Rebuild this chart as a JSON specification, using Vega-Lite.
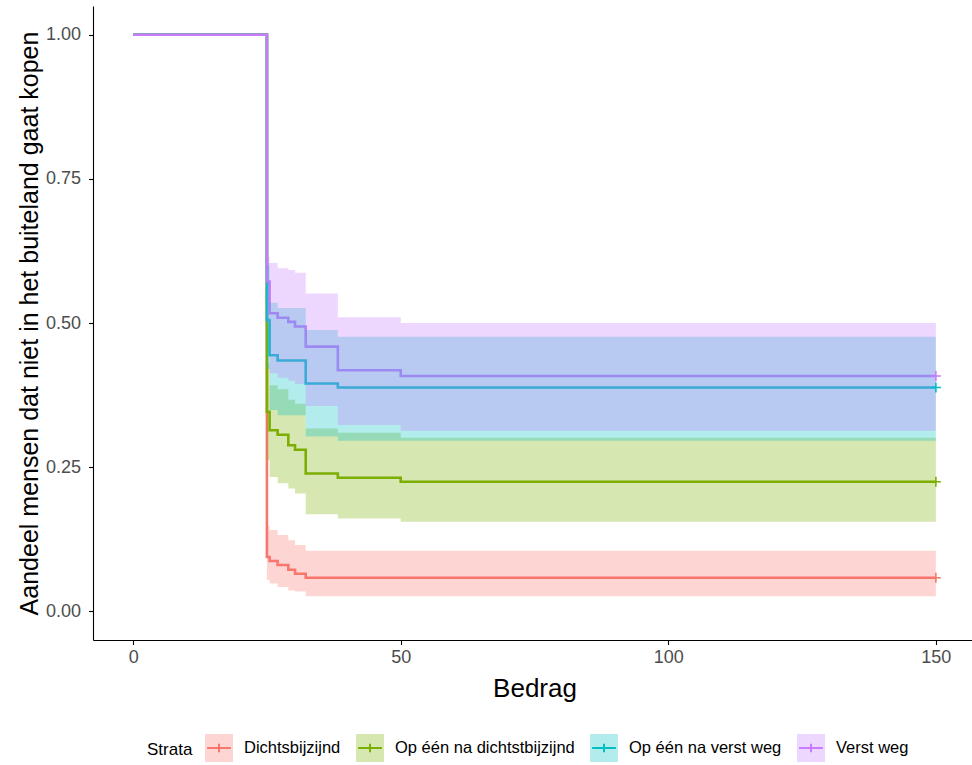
{
  "$schema": "https://vega.github.io/schema/vega-lite/v6.json",
  "width": 883,
  "height": 634,
  "autosize": {"type": "none"},
  "padding": {"left": 93, "top": 6, "right": 0, "bottom": 125},
  "background": "white",
  "datasets": {
    "km": [
      {"s": "Dichtsbijzijnd", "t": 0, "surv": 1, "upper": 1, "lower": 1},
      {"s": "Dichtsbijzijnd", "t": 25, "surv": 0.094, "upper": 0.148, "lower": 0.054},
      {"s": "Dichtsbijzijnd", "t": 25.5, "surv": 0.087, "upper": 0.141, "lower": 0.048},
      {"s": "Dichtsbijzijnd", "t": 27, "surv": 0.08, "upper": 0.132, "lower": 0.042},
      {"s": "Dichtsbijzijnd", "t": 29, "surv": 0.072, "upper": 0.123, "lower": 0.036},
      {"s": "Dichtsbijzijnd", "t": 30.25, "surv": 0.065, "upper": 0.115, "lower": 0.034},
      {"s": "Dichtsbijzijnd", "t": 32.25, "surv": 0.058, "upper": 0.105, "lower": 0.026},
      {"s": "Dichtsbijzijnd", "t": 150, "surv": 0.058, "upper": 0.105, "lower": 0.026},
      {"s": "Op één na dichtstbijzijnd", "t": 0, "surv": 1, "upper": 1, "lower": 1},
      {"s": "Op één na dichtstbijzijnd", "t": 25, "surv": 0.346, "upper": 0.43, "lower": 0.262},
      {"s": "Op één na dichtstbijzijnd", "t": 25.5, "surv": 0.314, "upper": 0.392, "lower": 0.233},
      {"s": "Op één na dichtstbijzijnd", "t": 27, "surv": 0.306, "upper": 0.385, "lower": 0.222},
      {"s": "Op één na dichtstbijzijnd", "t": 29, "surv": 0.288, "upper": 0.367, "lower": 0.213},
      {"s": "Op één na dichtstbijzijnd", "t": 30.25, "surv": 0.28, "upper": 0.36, "lower": 0.204},
      {"s": "Op één na dichtstbijzijnd", "t": 32.25, "surv": 0.239, "upper": 0.317, "lower": 0.168},
      {"s": "Op één na dichtstbijzijnd", "t": 38.25, "surv": 0.2315, "upper": 0.3096, "lower": 0.161},
      {"s": "Op één na dichtstbijzijnd", "t": 50, "surv": 0.2245, "upper": 0.301, "lower": 0.155},
      {"s": "Op één na dichtstbijzijnd", "t": 150, "surv": 0.2245, "upper": 0.301, "lower": 0.155},
      {"s": "Op één na verst weg", "t": 0, "surv": 1, "upper": 1, "lower": 1},
      {"s": "Op één na verst weg", "t": 25, "surv": 0.505, "upper": 0.6, "lower": 0.42},
      {"s": "Op één na verst weg", "t": 25.5, "surv": 0.444, "upper": 0.535, "lower": 0.349},
      {"s": "Op één na verst weg", "t": 27, "surv": 0.435, "upper": 0.526, "lower": 0.34},
      {"s": "Op één na verst weg", "t": 32.25, "surv": 0.395, "upper": 0.488, "lower": 0.303},
      {"s": "Op één na verst weg", "t": 38.25, "surv": 0.388, "upper": 0.476, "lower": 0.2957},
      {"s": "Op één na verst weg", "t": 150, "surv": 0.388, "upper": 0.476, "lower": 0.2957},
      {"s": "Verst weg", "t": 0, "surv": 1, "upper": 1, "lower": 1},
      {"s": "Verst weg", "t": 25, "surv": 0.572, "upper": 0.615, "lower": 0.5},
      {"s": "Verst weg", "t": 25.5, "surv": 0.517, "upper": 0.604, "lower": 0.413},
      {"s": "Verst weg", "t": 27, "surv": 0.509, "upper": 0.595, "lower": 0.405},
      {"s": "Verst weg", "t": 29, "surv": 0.502, "upper": 0.592, "lower": 0.4},
      {"s": "Verst weg", "t": 30.25, "surv": 0.494, "upper": 0.587, "lower": 0.394},
      {"s": "Verst weg", "t": 32.25, "surv": 0.459, "upper": 0.551, "lower": 0.356},
      {"s": "Verst weg", "t": 38.25, "surv": 0.418, "upper": 0.51, "lower": 0.323},
      {"s": "Verst weg", "t": 50, "surv": 0.408, "upper": 0.5, "lower": 0.313},
      {"s": "Verst weg", "t": 150, "surv": 0.408, "upper": 0.5, "lower": 0.313}
    ],
    "censor": [
      {"s": "Dichtsbijzijnd", "t": 150, "surv": 0.058},
      {"s": "Op één na dichtstbijzijnd", "t": 150, "surv": 0.2245},
      {"s": "Op één na verst weg", "t": 150, "surv": 0.388},
      {"s": "Verst weg", "t": 150, "surv": 0.408}
    ]
  },
  "layer": [
    {
      "data": {"name": "km"},
      "mark": {"type": "line", "interpolate": "step-after", "strokeWidth": 2.6},
      "encoding": {
        "x": {"field": "t", "type": "quantitative", "scale": {"domain": [-7.5, 157.5], "nice": false, "zero": false}, "axis": {"title": "Bedrag", "values": [0, 50, 100, 150]}},
        "y": {"field": "surv", "type": "quantitative", "scale": {"domain": [-0.05, 1.05], "nice": false, "zero": false}, "axis": {"title": "Aandeel mensen dat niet in het buiteland gaat kopen", "values": [0, 0.25, 0.5, 0.75, 1], "format": ".2f"}},
        "color": {"field": "s", "type": "nominal", "scale": {"domain": ["Dichtsbijzijnd", "Op één na dichtstbijzijnd", "Op één na verst weg", "Verst weg"], "range": ["#F8766D", "#7CAE00", "#00BFC4", "#C77CFF"]}, "legend": {"title": "Strata", "encode": {"symbols": {"update": {"fillOpacity": {"value": 0.3}, "strokeOpacity": {"value": 1}, "opacity": {"value": 1}}}}}}
      }
    },
    {
      "data": {"name": "km"},
      "mark": {"type": "area", "interpolate": "step-after", "fillOpacity": 0.3},
      "encoding": {
        "x": {"field": "t", "type": "quantitative"},
        "y": {"field": "upper", "type": "quantitative"},
        "y2": {"field": "lower"},
        "color": {"field": "s", "type": "nominal", "legend": {"title": "Strata", "encode": {"symbols": {"update": {"fillOpacity": {"value": 0.3}, "strokeOpacity": {"value": 1}, "opacity": {"value": 1}}}}}}
      }
    },
    {
      "data": {"name": "censor"},
      "mark": {"type": "point", "shape": "M-1,0H1M0,-1V1", "filled": false, "size": 100, "strokeWidth": 1.6, "opacity": 1},
      "encoding": {
        "x": {"field": "t", "type": "quantitative"},
        "y": {"field": "surv", "type": "quantitative"},
        "color": {"field": "s", "type": "nominal", "legend": {"title": "Strata", "encode": {"symbols": {"update": {"fillOpacity": {"value": 0.3}, "strokeOpacity": {"value": 1}, "opacity": {"value": 1}}}}}}
      }
    }
  ],
  "config": {
    "view": {"stroke": null},
    "font": "Liberation Sans",
    "axis": {
      "grid": false,
      "domainColor": "black",
      "domainWidth": 1.1,
      "tickColor": "black",
      "tickWidth": 1.1,
      "tickSize": 4.5,
      "labelColor": "#4D4D4D",
      "labelFont": "Liberation Sans",
      "labelFontSize": 18,
      "labelPadding": 4,
      "titleFont": "Liberation Sans",
      "titleFontSize": 25,
      "titleFontWeight": "normal",
      "titleColor": "black"
    },
    "axisX": {"titlePadding": 9, "titleFontSize": 26},
    "axisY": {"titlePadding": 3, "labelPadding": 8},
    "legend": {
      "orient": "none",
      "legendX": 54,
      "legendY": 727,
      "direction": "horizontal",
      "titleOrient": "left",
      "titleAnchor": "middle",
      "titleBaseline": "middle",
      "titleFont": "Liberation Sans",
      "titleFontSize": 17,
      "titleFontWeight": "normal",
      "titleColor": "black",
      "titlePadding": 11,
      "labelFont": "Liberation Sans",
      "labelFontSize": 16.5,
      "labelColor": "black",
      "labelLimit": 0,
      "labelOffset": 10,
      "columnPadding": 11,
      "symbolType": "M-0.85,0H0.85H0V-0.3V0.3V0H-0.85H-1V-1H1V1H-1V0",
      "symbolSize": 784,
      "symbolStrokeWidth": 2,
      "symbolDash": [64.4, 400]
    }
  }
}
